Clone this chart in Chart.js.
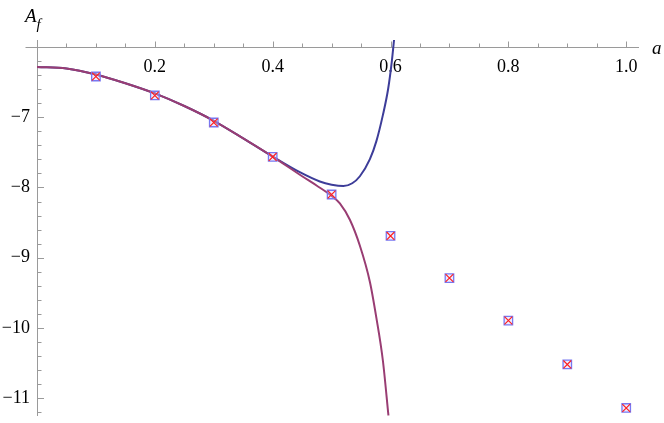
<!DOCTYPE html>
<html>
<head>
<meta charset="utf-8">
<script src="https://cdn.jsdelivr.net/npm/chart.js@4"></script>
<style>
  html, body { margin: 0; padding: 0; background: #fff; }
  #wrap { position: relative; width: 664px; height: 423px; }
  .lbl { position: absolute; font-family: "Liberation Serif", serif; font-style: italic; color: #000; }
  #ylab { left: 25px; top: 5px; font-size: 19px; }
  #ylab sub { font-size: 15px; position: relative; top: 2px; }
  #xlab { left: 652px; top: 37px; font-size: 19px; }
</style>
</head>
<body>
<div id="wrap">
  <canvas id="chart" width="664" height="423"></canvas>
  <div class="lbl" id="ylab">A<sub>f</sub></div>
  <div class="lbl" id="xlab">a</div>
</div>
<script>
// sampled points (a, A_f)
const pointA = [0.1, 0.2, 0.3, 0.4, 0.5, 0.6, 0.7, 0.8, 0.9, 1.0];
const squareValues = [-6.42, -6.69, -7.075, -7.565, -8.10, -8.69, -9.29, -9.895, -10.52, -11.14];
const crossValues = [-6.42, -6.69, -7.075, -7.565, -8.10, -8.69, -9.29, -9.895, -10.52, -11.14];

// blue curve
const blueCurveA = [0, 0.05, 0.1, 0.15, 0.2, 0.25, 0.3, 0.35, 0.4, 0.446, 0.48, 0.5, 0.52, 0.535, 0.548, 0.565, 0.576, 0.587, 0.596, 0.602, 0.606];
const blueCurveV = [-6.283, -6.305, -6.39, -6.515, -6.66, -6.84, -7.05, -7.3, -7.56, -7.783, -7.915, -7.96, -7.98, -7.94, -7.84, -7.597, -7.34, -6.97, -6.594, -6.22, -5.895];

// purple curve
const purpleCurveA = [0, 0.05, 0.1, 0.15, 0.2, 0.25, 0.3, 0.35, 0.4, 0.45, 0.475, 0.5, 0.514, 0.531, 0.548, 0.565, 0.576, 0.587, 0.5965];
const purpleCurveV = [-6.283, -6.305, -6.39, -6.515, -6.66, -6.84, -7.05, -7.3, -7.56, -7.84, -7.975, -8.12, -8.226, -8.46, -8.83, -9.345, -9.857, -10.464, -11.25];

const xTicks = [0.2, 0.4, 0.6, 0.8, 1.0];
const yTicks = [-11, -10, -9, -8, -7];

const toXY = (xs, ys) => xs.map((x, i) => ({ x: x, y: ys[i] }));

const axisGray = '#9a9a9a';
const labelFont = { family: "'Liberation Serif', serif", size: 18 };

// Mathematica style tick marks (major + minor), inside the axes
const tickMarks = {
  id: 'tickMarks',
  beforeDatasetsDraw(chart) {
    const { ctx, scales: { x, y } } = chart;
    const x0 = Math.round(x.getPixelForValue(0)) + 0.5;
    const y0 = Math.round(y.getPixelForValue(-6)) + 0.5;
    ctx.save();
    ctx.strokeStyle = axisGray;
    ctx.lineWidth = 1;
    ctx.beginPath();
    // short piece of the horizontal axis left of the vertical one
    ctx.moveTo(x0 - 12, y0);
    ctx.lineTo(x0, y0);
    for (let k = 1; k <= 20; k++) {
      const px = Math.round(x.getPixelForValue(k * 0.05)) + 0.5;
      const len = k % 4 === 0 ? 6 : 4;
      ctx.moveTo(px, y0);
      ctx.lineTo(px, y0 - len);
    }
    for (let k = 1; k <= 26; k++) {
      const v = -6 - k * 0.2;
      if (v < y.min) break;
      const py = Math.round(y.getPixelForValue(v)) + 0.5;
      const len = k % 5 === 0 ? 6.5 : 4;
      ctx.moveTo(x0, py);
      ctx.lineTo(x0 + len, py);
    }
    ctx.stroke();
    ctx.restore();
  }
};

new Chart(document.getElementById('chart').getContext('2d'), {
  type: 'scatter',
  data: {
    datasets: [{
      label: 'cross',
      data: toXY(pointA, crossValues),
      pointStyle: 'crossRot',
      radius: 5.5,
      borderColor: '#ff2020',
      borderWidth: 1.2,
      backgroundColor: '#ff2020'
    }, {
      label: 'square',
      data: toXY(pointA, squareValues),
      pointStyle: 'rect',
      radius: 6,
      borderColor: '#7878f2',
      borderWidth: 1.3,
      backgroundColor: 'rgba(200,200,255,0.35)'
    }, {
      label: 'purple',
      data: toXY(purpleCurveA, purpleCurveV),
      showLine: true,
      pointRadius: 0,
      borderColor: '#993d73',
      borderWidth: 2,
      cubicInterpolationMode: 'monotone'
    }, {
      label: 'blue',
      data: toXY(blueCurveA, blueCurveV),
      showLine: true,
      pointRadius: 0,
      borderColor: '#3d3d99',
      borderWidth: 2,
      cubicInterpolationMode: 'monotone'
    }]
  },
  options: {
    responsive: false,
    animation: false,
    devicePixelRatio: 1,
    layout: { padding: { top: 40, left: 0, right: 26, bottom: 0 } },
    plugins: {
      legend: { display: false },
      tooltip: { enabled: false }
    },
    scales: {
      x: {
        type: 'linear',
        position: { y: -6 },
        min: 0,
        max: 1.02,
        afterBuildTicks: s => { s.ticks = xTicks.map(v => ({ value: v })); },
        afterFit: s => { s.paddingLeft = 0; s.paddingRight = 0; s.paddingTop = 0; s.paddingBottom = 0; },
        grid: { display: false, drawTicks: false },
        border: { display: true, color: axisGray, width: 1 },
        ticks: {
          color: '#000',
          font: labelFont,
          padding: 9,
          maxRotation: 0,
          callback: v => v.toFixed(1)
        }
      },
      y: {
        type: 'linear',
        position: 'left',
        min: -11.25,
        max: -5.9,
        afterBuildTicks: s => { s.ticks = yTicks.map(v => ({ value: v })); },
        afterFit: s => { s.width = 37; s.paddingTop = 0; s.paddingBottom = 0; },
        grid: { display: false, drawTicks: false },
        border: { display: true, color: axisGray, width: 1 },
        ticks: {
          color: '#000',
          font: labelFont,
          padding: 7,
          callback: v => '\u2212' + Math.abs(v)
        }
      }
    }
  },
  plugins: [tickMarks]
});
</script>
</body>
</html>
